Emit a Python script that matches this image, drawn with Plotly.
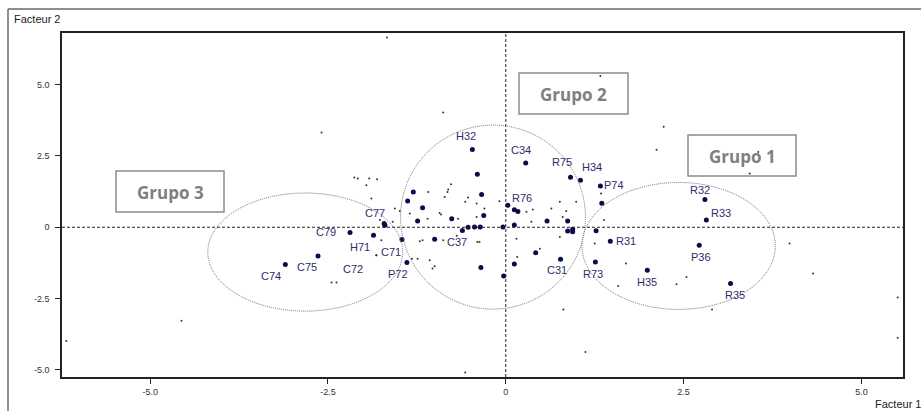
import plotly.graph_objects as go

# ---------------- data ----------------
# labelled individuals (Facteur 1, Facteur 2)
lab_names = ["C74", "C75", "C79", "H71", "C72", "C77", "C71", "P72", "H32", "C37",
             "C34", "R75", "H34", "P74", "R76", "C31", "R73", "R31", "R32", "R33",
             "P36", "H35", "R35"]
lab_f1 = [-3.10, -2.64, -2.19, -1.86, -1.82, -1.71, -1.46, -1.39, -0.47, -0.61,
          0.28, 0.91, 1.05, 1.33, 0.03, 0.77, 1.26, 1.47, 2.80, 2.82,
          2.72, 1.99, 3.16]
lab_f2 = [-1.31, -1.01, -0.18, -0.28, -0.98, 0.13, -0.43, -1.24, 2.73, -0.11,
          2.25, 1.75, 1.65, 1.45, 0.77, -1.12, -1.22, -0.49, 0.97, 0.25,
          -0.63, -1.51, -1.97]
no_marker = {"C72"}

# other active individuals (unlabelled)
oth_f1 = [-0.40, -0.34, -0.31, -0.36, -0.44, -0.53, -1.30, -1.38, -1.17, -0.76,
          -1.24, -1.70, -1.00, -0.35, -0.03, -0.04, 0.12, 0.12, 0.17, 0.58,
          0.87, 0.87, 0.94, 0.94, 1.27, 1.35, 0.42, 0.12]
oth_f2 = [1.86, 1.15, 0.41, 0.01, 0.01, 0.00, 1.24, 0.92, 0.68, 0.30,
          0.22, 0.07, -0.42, -1.41, -1.71, 0.01, 0.08, 0.61, 0.55, 0.22,
          0.22, -0.13, -0.07, -0.16, -0.12, 0.84, -0.89, -1.29]

# supplementary individuals (tiny dots)
sup_f1 = [-1.67, -0.88, -2.59, 1.33, 2.22, -2.08, -1.92, -1.81, -1.96, -1.56,
          -1.77, -1.59, -1.09, -0.82, -0.93, -0.69, -1.17, -0.88, -1.07, -1.00,
          -1.32, -1.49, 2.12, 3.43, 3.55, 0.99, 0.85, 0.76, 1.34, 1.38,
          -0.09, 0.29, 0.36, 0.15, 0.16, 0.48, 0.76, 1.25, 1.69, 2.54,
          3.99, 4.32, -0.37, -0.41, -0.30, -6.18, -4.56, -2.45, -2.38, 0.81,
          1.12, -0.57, 2.90, 5.51, 5.51, 2.40, 1.58, -2.13, -1.89, -1.75,
          -1.82, 0.64, 0.38, 0.80, -0.81, -0.77, -0.86, -0.57, -0.53, -1.35,
          -0.91, -1.10, -1.21, -1.03, -1.24, -0.40, -0.67, -0.41]
sup_f2 = [6.65, 4.02, 3.32, 5.30, 3.52, 1.71, 1.71, 1.68, 1.47, 0.66,
          0.25, 0.19, 1.24, 1.24, 0.50, -0.30, -0.46, -0.46, -1.16, -1.37,
          -1.10, 0.57, 2.72, 1.88, 2.64, 0.89, 0.57, 0.89, 1.18, 0.25,
          0.91, 0.54, 0.19, -0.40, -1.04, -0.75, -0.34, -0.57, -1.27, -1.74,
          -0.57, -1.62, -0.52, 0.83, 0.66, -3.99, -3.28, -1.94, -1.94, -2.88,
          -4.37, -5.09, -2.88, -2.46, -3.87, -2.00, -2.06, 1.74, 1.01, -0.46,
          -0.98, 0.66, 0.62, 0.36, 1.32, 1.51, 1.06, 0.89, 1.04, 0.48,
          0.45, 0.30, -0.49, -1.45, -1.10, -0.52, 0.30, 0.36]

# group ellipses (bounding boxes in factor units)
grp_names = ["Grupo 1", "Grupo 2", "Grupo 3"]
ell_f1_min = [1.07, -1.48, -4.19]
ell_f1_max = [3.79, 1.12, -1.45]
ell_f2_min = [-2.88, -2.87, -2.94]
ell_f2_max = [1.57, 3.58, 1.20]

# axis ticks
tick_vals = [-5.0, -2.5, 0.0, 2.5, 5.0]
tick_text = ["-5.0", "-2.5", "0", "2.5", "5.0"]

# ---------------- layout helpers ----------------
W, H = 921, 411
PL, PR, PT, PB = 62, 903, 33, 377
XR = [-6.24, 5.585]
YR = [-5.25, 6.81]


def px2x(px):
    return XR[0] + (px - PL) / (PR - PL) * (XR[1] - XR[0])


def py2y(py):
    return YR[1] - (py - PT) / (PB - PT) * (YR[1] - YR[0])


def ppx(px):
    return (px - PL) / (PR - PL)


def ppy(py):
    return (PB - py) / (PB - PT)


# label offsets (pixels) relative to their point
lab_dx = {"C74": -14, "C75": -11, "C79": -24, "H71": -14, "C72": -23, "C77": -9,
          "C71": -11, "P72": -9, "H32": -6, "C37": -5, "C34": -5, "R75": -9,
          "H34": 12, "P74": 14, "R76": 14, "C31": -4, "R73": -2, "R31": 16,
          "R32": -5, "R33": 15, "P36": 2, "H35": 0, "R35": 4}
lab_dy = {"C74": 11, "C75": 11, "C79": 0, "H71": 12, "C72": 14, "C77": -11,
          "C71": 12, "P72": 11, "H32": -13, "C37": 12, "C34": -13, "R75": -15,
          "H34": -13, "P74": -1, "R76": -7, "C31": 11, "R73": 12, "R31": 0,
          "R32": -10, "R33": -7, "P36": 12, "H35": 12, "R35": 12}

# group label boxes in pixels (x0, x1, y0, y1)
box_px = {"Grupo 1": (688, 796, 135, 176),
          "Grupo 2": (519, 628, 73, 114),
          "Grupo 3": (116, 224, 171, 212)}

DOT = "#0b0b4a"
LABC = "#2e2e6c"

fig = go.Figure()

fig.add_trace(go.Scatter(x=sup_f1, y=sup_f2, mode="markers",
                         marker=dict(size=2, color="#333333"),
                         hoverinfo="skip", showlegend=False))
fig.add_trace(go.Scatter(x=oth_f1, y=oth_f2, mode="markers",
                         marker=dict(size=5, color=DOT),
                         showlegend=False))
mx = [a for a, n in zip(lab_f1, lab_names) if n not in no_marker]
my = [b for b, n in zip(lab_f2, lab_names) if n not in no_marker]
fig.add_trace(go.Scatter(x=mx, y=my, mode="markers",
                         marker=dict(size=5, color=DOT),
                         showlegend=False))
# C72 point drawn as small dot
sx = [a for a, n in zip(lab_f1, lab_names) if n in no_marker]
sy = [b for b, n in zip(lab_f2, lab_names) if n in no_marker]
fig.add_trace(go.Scatter(x=sx, y=sy, mode="markers",
                         marker=dict(size=2, color="#333333"),
                         showlegend=False))

shapes = []
# ellipses
for i in range(len(grp_names)):
    shapes.append(dict(type="circle", xref="x", yref="y",
                       x0=ell_f1_min[i], x1=ell_f1_max[i],
                       y0=ell_f2_min[i], y1=ell_f2_max[i],
                       line=dict(color="#707070", width=1, dash="1px,1px")))
# dashed axes through origin
shapes.append(dict(type="line", xref="x", yref="paper", x0=0, x1=0, y0=0, y1=1,
                   line=dict(color="#222222", width=1, dash="3px,2px")))
shapes.append(dict(type="line", xref="paper", yref="y", x0=0, x1=1, y0=0, y1=0,
                   line=dict(color="#222222", width=1, dash="3px,2px")))
# group boxes
for g, (x0, x1, y0, y1) in box_px.items():
    shapes.append(dict(type="rect", xref="x", yref="y",
                       x0=px2x(x0), x1=px2x(x1), y0=py2y(y1), y1=py2y(y0),
                       line=dict(color="#8c8c8c", width=1.5),
                       fillcolor="white", layer="below"))
# outer window frame
shapes.append(dict(type="line", xref="paper", yref="paper",
                   x0=ppx(8), x1=ppx(925), y0=ppy(9), y1=ppy(9),
                   line=dict(color="#6a6a6a", width=1.5)))
shapes.append(dict(type="line", xref="paper", yref="paper",
                   x0=ppx(8), x1=ppx(8), y0=ppy(9), y1=ppy(415),
                   line=dict(color="#6a6a6a", width=1.5)))

annotations = []
for n, a, b in zip(lab_names, lab_f1, lab_f2):
    annotations.append(dict(x=a, y=b, xref="x", yref="y", text=n, showarrow=False,
                            xanchor="center", yanchor="middle",
                            xshift=lab_dx[n], yshift=-lab_dy[n],
                            font=dict(family="Liberation Sans, Arial", size=11, color=LABC)))
for g, (x0, x1, y0, y1) in box_px.items():
    annotations.append(dict(x=px2x((x0 + x1) / 2), y=py2y((y0 + y1) / 2 + 0.5),
                            xref="x", yref="y", text="<b>" + g + "</b>", showarrow=False,
                            xanchor="center", yanchor="middle",
                            font=dict(family="Open Sans", size=17, color="#7f7f7f")))
annotations.append(dict(x=ppx(12), y=ppy(19), xref="paper", yref="paper",
                        text="Facteur 2", showarrow=False, xanchor="left", yanchor="middle",
                        font=dict(family="Liberation Sans, Arial", size=11, color="#222222")))
annotations.append(dict(x=ppx(873), y=ppy(404), xref="paper", yref="paper",
                        text="Facteur 1", showarrow=False, xanchor="left", yanchor="middle",
                        font=dict(family="Liberation Sans, Arial", size=11, color="#222222")))

axis_common = dict(showgrid=False, zeroline=False, showline=True, mirror=True,
                   linecolor="#222222", linewidth=1.5, ticks="outside", ticklen=5,
                   tickcolor="#222222", tickvals=tick_vals, ticktext=tick_text,
                   tickfont=dict(family="Liberation Sans, Arial", size=9, color="#333333"))

fig.update_layout(
    width=W, height=H,
    margin=dict(l=PL, r=W - PR, t=PT, b=H - PB),
    paper_bgcolor="white", plot_bgcolor="white",
    xaxis=dict(range=XR, **axis_common),
    yaxis=dict(range=YR, ticklabelstandoff=4, **axis_common),
    shapes=shapes, annotations=annotations,
    showlegend=False,
)

fig.write_html("out.html", config={"displayModeBar": False},
               post_script="document.body.style.margin='0';document.body.style.overflow='hidden';")
